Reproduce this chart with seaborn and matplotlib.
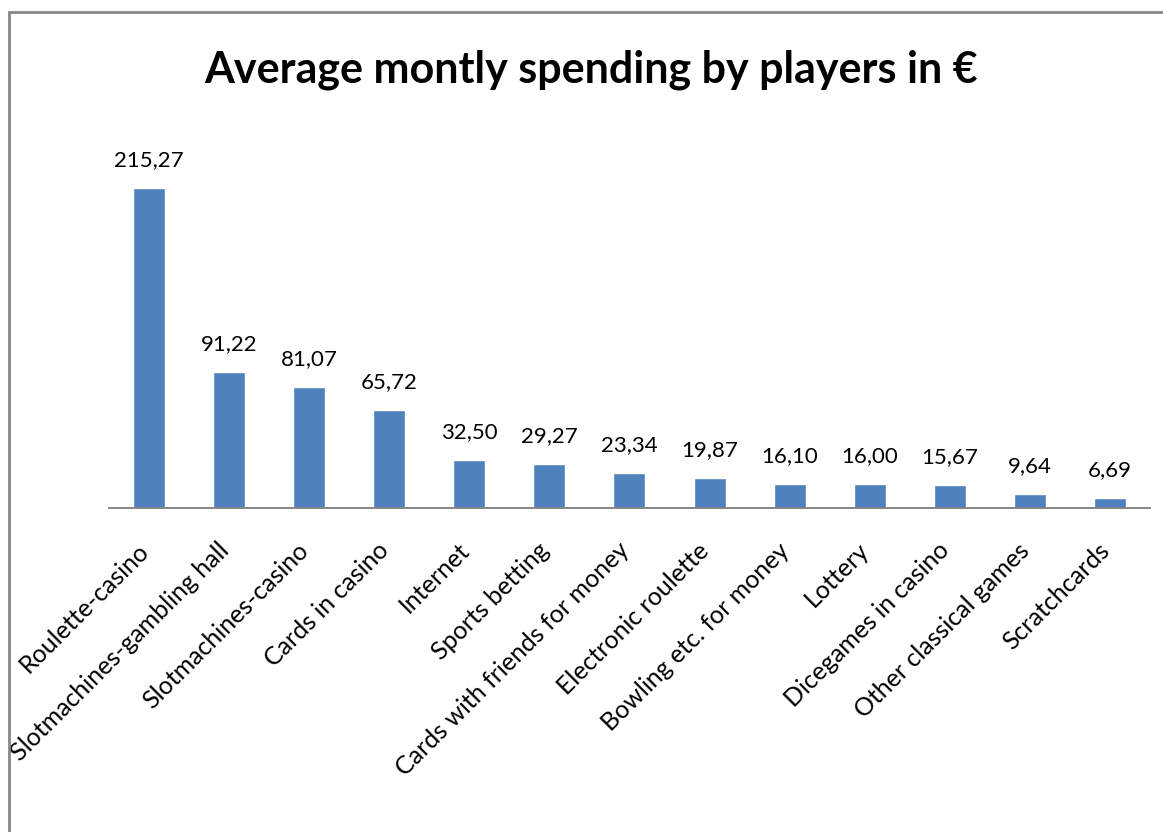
import matplotlib
matplotlib.use("Agg")
import matplotlib.pyplot as plt
import matplotlib.transforms as mtransforms
import seaborn as sns
import pandas as pd
from matplotlib.patches import Rectangle

# Average monthly spending per game type, in euro
categories = [
    "Roulette-casino",
    "Slotmachines-gambling hall",
    "Slotmachines-casino",
    "Cards in casino",
    "Internet",
    "Sports betting",
    "Cards with friends for money",
    "Electronic roulette",
    "Bowling etc. for money",
    "Lottery",
    "Dicegames in casino",
    "Other classical games",
    "Scratchcards",
]
spending = [215.27, 91.22, 81.07, 65.72, 32.50, 29.27, 23.34, 19.87, 16.10, 16.00, 15.67, 9.64, 6.69]
title = "Average montly spending by players in €"

df = pd.DataFrame({"category": categories, "spending": spending})

sns.set_theme(style="white")
plt.rcParams["font.family"] = ["Lato", "DejaVu Sans"]

fig = plt.figure(figsize=(11.63, 8.32), dpi=100)
ax = fig.add_axes([0.0937, 0.3894, 0.8951, 0.447])

sns.barplot(data=df, x="category", y="spending", color="#4F81BD",
            saturation=1, width=0.4, ax=ax)

ax.set_xlim(-0.5, len(categories) - 0.5)
ax.set_ylim(0, 250)
ax.set_xlabel("")
ax.set_ylabel("")
ax.set_yticks([])
for side in ("left", "right", "top"):
    ax.spines[side].set_visible(False)
ax.spines["bottom"].set_color("#868686")
ax.spines["bottom"].set_linewidth(1.4)

ax.tick_params(axis="x", length=0, pad=22)
ax.set_xticks(range(len(categories)))
ax.set_xticklabels(categories, rotation=45, ha="right", fontsize=18, color="black")
shift = mtransforms.ScaledTranslation(4 / 100, 0, fig.dpi_scale_trans)
for lab in ax.get_xticklabels():
    lab.set_transform(lab.get_transform() + shift)

for i, v in enumerate(spending):
    ax.annotate(f"{v:.2f}".replace(".", ","), (i, v), xytext=(0, 13),
                textcoords="offset points", ha="center", va="bottom",
                fontsize=16, color="black")

fig.text(0.508, 0.916, title, ha="center", va="center",
         fontsize=31, fontweight="bold", color="black")

# chart frame, open at the right and bottom edges
fig.patches.append(Rectangle((9 / 1163, -0.05), 1.2, 1.05 - 12 / 832,
                             transform=fig.transFigure, fill=False,
                             edgecolor="#868686", linewidth=2))

fig.savefig("out.png", dpi=100, facecolor="white")
